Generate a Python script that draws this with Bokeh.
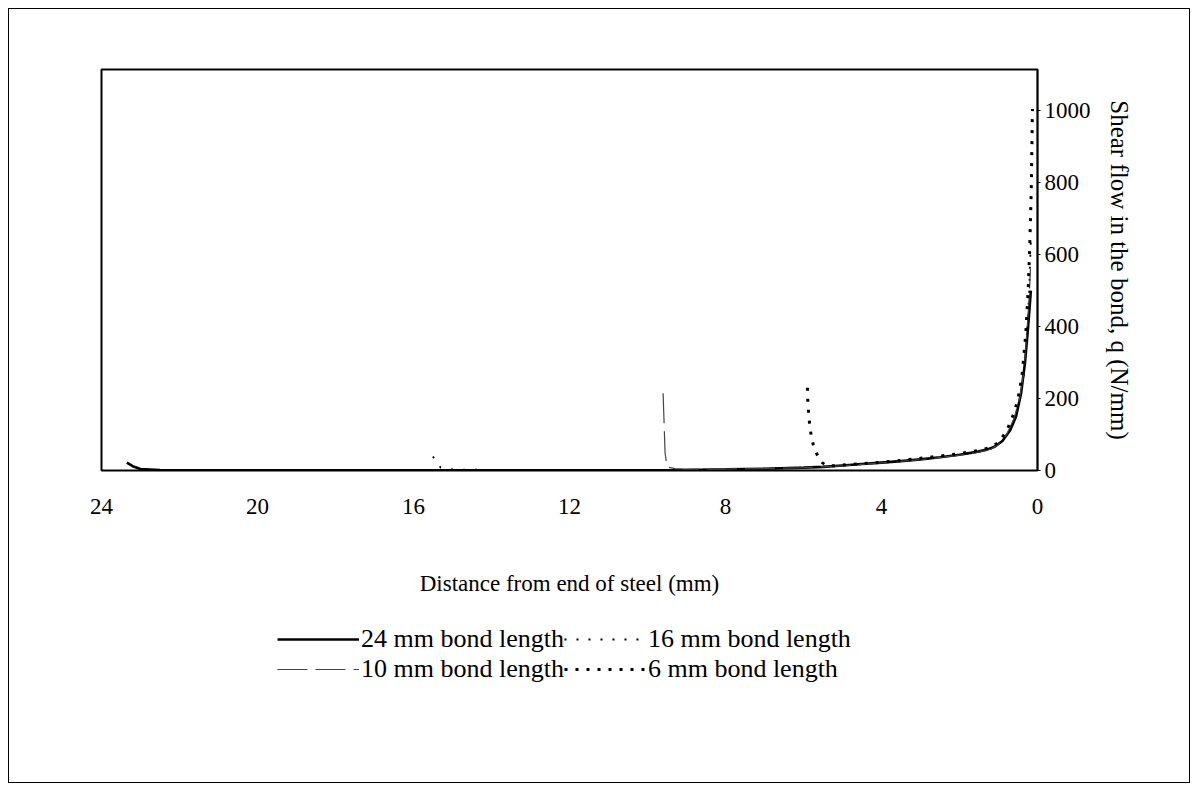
from bokeh.plotting import figure
from bokeh.models import Range1d, Legend, LegendItem, FixedTicker
from bokeh.layouts import column
from bokeh.embed import file_html
from bokeh.resources import INLINE

# ---- data (distance from end of steel in mm, shear flow q in N/mm) ----
x24 = [23.35, 23.2, 23.0, 22.5, 21.0, 19.0, 17.0, 15.0, 13.0, 11.0, 9.0, 8.0, 7.0, 6.0, 5.5, 5.0, 4.5, 4.0, 3.5, 3.0, 2.5, 2.0, 1.6, 1.3, 1.1, 0.9, 0.7, 0.55, 0.42, 0.32, 0.24, 0.17]
q24 = [22, 12, 4, 1.5, 0.8, 0.5, 0.3, 0.3, 0.4, 0.6, 1.5, 3, 5, 8, 10, 14, 18, 22, 26, 31, 37, 44, 51, 58, 66, 82, 112, 150, 215, 300, 400, 500]

x16 = [15.5, 15.42, 15.3, 15.0, 14.0, 13.0, 11.0, 9.0, 8.0, 7.0, 6.0, 5.0, 4.0, 3.0, 2.0, 1.5, 1.2, 1.0, 0.8, 0.6, 0.45, 0.35, 0.28, 0.22, 0.17]
q16 = [39, 22, 8, 3, 1.5, 1, 0.8, 1.5, 3, 5, 8, 14, 22, 31, 44, 52, 60, 72, 95, 140, 195, 265, 360, 480, 640]

x10 = [9.6, 9.58, 9.55, 9.5, 9.3, 9.0, 8.0, 7.0, 6.0, 5.0, 4.0, 3.0, 2.0, 1.5, 1.2, 1.0, 0.8, 0.6, 0.45, 0.35, 0.28, 0.22, 0.18]
q10 = [215, 150, 50, 10, 5, 4, 4, 5, 8, 13, 21, 30, 43, 51, 59, 72, 98, 145, 205, 275, 370, 470, 560]

x6 = [5.9, 5.89, 5.87, 5.84, 5.8, 5.75, 5.7, 5.62, 5.52, 5.42, 5.2, 5.0, 4.5, 4.0, 3.5, 3.0, 2.5, 2.0, 1.5, 1.2, 1.0, 0.8, 0.6, 0.5, 0.4, 0.3, 0.24, 0.2, 0.16, 0.13]
q6 = [230, 195, 160, 125, 95, 72, 55, 38, 22, 14, 13, 15, 19, 23, 28, 34, 40, 47, 56, 64, 78, 108, 160, 200, 260, 380, 500, 620, 780, 1005]

x_ticks = [24, 20, 16, 12, 8, 4, 0]
y_ticks = [0, 200, 400, 600, 800, 1000]

series_labels = ["24 mm bond length", "16 mm bond length", "10 mm bond length", "6 mm bond length"]

FONT = "Liberation Serif"

STYLES = [
    dict(line_color="black", line_width=2.6),
    dict(line_color="black", line_width=1.8, line_dash="2 10"),
    dict(line_color="#444444", line_width=1.2, line_dash="30 8"),
    dict(line_color="black", line_width=3, line_dash="3 8"),
]
SERIES = [(x24, q24), (x16, q16), (x10, q10), (x6, q6)]

# ---------------- main chart ----------------
p = figure(width=1180, height=610, frame_width=936, frame_height=401,
           output_backend="svg", toolbar_location=None,
           x_range=Range1d(24, 0), y_range=Range1d(0, 1115),
           y_axis_location="right", min_border_left=92, min_border_top=60,
           min_border_right=152, min_border_bottom=149)
p.xgrid.visible = False
p.ygrid.visible = False
p.outline_line_color = "black"
p.outline_line_width = 2
p.background_fill_color = "white"
p.border_fill_color = "white"

for (xs, ys), st in zip(SERIES, STYLES):
    p.line(xs, ys, **st)

xa = p.xaxis[0]
xa.ticker = FixedTicker(ticks=x_ticks)
xa.axis_line_color = None
xa.major_tick_line_color = None
xa.minor_tick_line_color = None
xa.major_label_standoff = 22
xa.major_label_text_font = FONT
xa.major_label_text_font_size = "23px"
xa.major_label_text_color = "black"
xa.axis_label = "Distance from end of steel (mm)"
xa.axis_label_text_font = FONT
xa.axis_label_text_font_size = "23px"
xa.axis_label_text_font_style = "normal"
xa.axis_label_text_color = "black"
xa.axis_label_standoff = 54

ya = p.yaxis[0]
ya.ticker = FixedTicker(ticks=y_ticks)
ya.axis_line_color = "black"
ya.axis_line_width = 1.5
ya.major_tick_line_color = "black"
ya.major_tick_out = 3
ya.major_tick_in = 0
ya.minor_tick_line_color = None
ya.major_label_standoff = 4
ya.major_label_text_font = FONT
ya.major_label_text_font_size = "23px"
ya.major_label_text_color = "black"
ya.axis_label = "Shear flow in the bond, q (N/mm)"
ya.axis_label_text_font = FONT
ya.axis_label_text_font_size = "25px"
ya.axis_label_text_font_style = "normal"
ya.axis_label_text_color = "black"
ya.axis_label_standoff = 12

# ---------------- legend strip (same series, legend keys only) ----------------
lf = figure(width=1180, height=163, output_backend="svg", toolbar_location=None,
            x_range=Range1d(100, 101), y_range=Range1d(5000, 5001),
            x_axis_location=None, y_axis_location=None,
            min_border_left=0, min_border_right=0, min_border_top=0, min_border_bottom=0)
lf.xgrid.visible = False
lf.ygrid.visible = False
lf.outline_line_color = None
lf.background_fill_color = "white"
lf.border_fill_color = "white"

lrs = [lf.line(xs, ys, **st) for (xs, ys), st in zip(SERIES, STYLES)]

legend = Legend(items=[LegendItem(label=lab, renderers=[r]) for lab, r in zip(series_labels, lrs)],
                ncols=2, orientation="horizontal", location=(176, 98))
legend.label_text_font = FONT
legend.label_text_font_size = "26px"
legend.label_text_color = "black"
legend.label_height = 22
legend.glyph_width = 82
legend.glyph_height = 20
legend.label_standoff = 2
legend.spacing = 0
legend.padding = 0
legend.margin = 0
legend.border_line_color = None
legend.background_fill_alpha = 0
lf.add_layout(legend, "center")

layout = column(p, lf, spacing=0)
layout.styles = {"border": "1.5px solid black", "box-sizing": "border-box", "margin": "8px"}

open("out.html", "w").write(file_html(layout, INLINE))
